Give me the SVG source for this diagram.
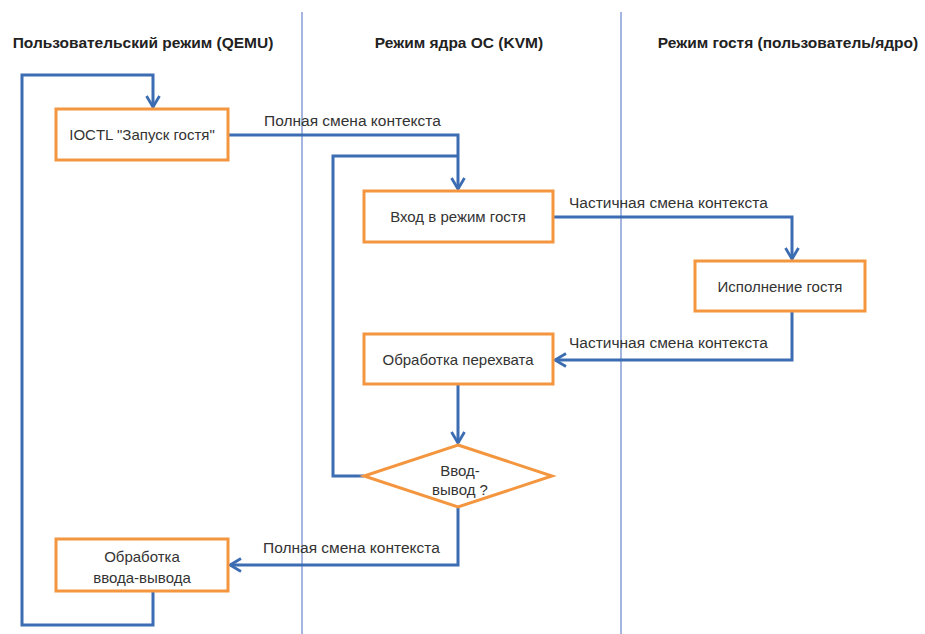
<svg xmlns="http://www.w3.org/2000/svg" width="925" height="634" viewBox="0 0 925 634">
<defs>
<style>
.lane{stroke:#4a6fc2;stroke-width:1;fill:none}
.hdr{font-family:"Liberation Sans",Arial,sans-serif;font-size:15.5px;font-weight:bold;fill:#222;text-anchor:middle}
.box{fill:#fff;stroke:#f3963f;stroke-width:3}
.txt{font-family:"Liberation Sans",Arial,sans-serif;font-size:15px;fill:#333;text-anchor:middle}
.lbl{font-family:"Liberation Sans",Arial,sans-serif;font-size:15.5px;fill:#333}
.con{fill:none;stroke:#3c6db3;stroke-width:3;stroke-linejoin:miter}
</style>
<marker id="arr" viewBox="0 0 14 16" refX="12.5" refY="8" markerWidth="14" markerHeight="16" markerUnits="userSpaceOnUse" orient="auto">
<path d="M1.5,1.5 L12.5,8 L1.5,14.5" fill="none" stroke="#3c6db3" stroke-width="2.8"/>
</marker>
</defs>
<rect width="925" height="634" fill="#fff"/>
<g id="lanes">
<line class="lane" x1="302" y1="12" x2="302" y2="634"/>
<line class="lane" x1="621" y1="12" x2="621" y2="634"/>
<text class="hdr" x="143" y="48">Пользовательский режим (QEMU)</text>
<text class="hdr" x="459" y="48">Режим ядра ОС (KVM)</text>
<text class="hdr" x="788" y="48">Режим гостя (пользователь/ядро)</text>
</g>
<g id="connectors">
<path class="con" d="M153,591 V625 H22 V75 H153 V107" marker-end="url(#arr)"/>
<path class="con" d="M228,135 H458 V189" marker-end="url(#arr)"/>
<path class="con" d="M364,476 H333 V156 H458"/>
<path class="con" d="M553,217 H792 V259" marker-end="url(#arr)"/>
<path class="con" d="M792,311 V360 H555" marker-end="url(#arr)"/>
<path class="con" d="M458,384 V443" marker-end="url(#arr)"/>
<path class="con" d="M458,507 V565 H230" marker-end="url(#arr)"/>
<text class="lbl" x="264" y="126">Полная смена контекста</text>
<text class="lbl" x="569" y="208">Частичная смена контекста</text>
<text class="lbl" x="569" y="348">Частичная смена контекста</text>
<text class="lbl" x="263" y="553">Полная смена контекста</text>
</g>
<g id="n-ioctl">
<rect class="box" x="56" y="109" width="172" height="51"/>
<text class="txt" x="142" y="140">IOCTL "Запуск гостя"</text>
</g>
<g id="n-entry">
<rect class="box" x="364" y="191" width="189" height="51"/>
<text class="txt" x="458" y="222">Вход в режим гостя</text>
</g>
<g id="n-exec">
<rect class="box" x="695" y="261" width="170" height="50"/>
<text class="txt" x="780" y="292">Исполнение гостя</text>
</g>
<g id="n-trap">
<rect class="box" x="364" y="334" width="189" height="50"/>
<text class="txt" x="458" y="365">Обработка перехвата</text>
</g>
<g id="n-io">
<polygon class="box" points="458,445 552,476 458,507 364,476"/>
<text class="txt" x="460" y="476">Ввод-</text>
<text class="txt" x="460" y="495">вывод ?</text>
</g>
<g id="n-iohandle">
<rect class="box" x="56" y="539" width="172" height="52"/>
<text class="txt" x="142" y="562">Обработка</text>
<text class="txt" x="142" y="583">ввода-вывода</text>
</g>
</svg>
